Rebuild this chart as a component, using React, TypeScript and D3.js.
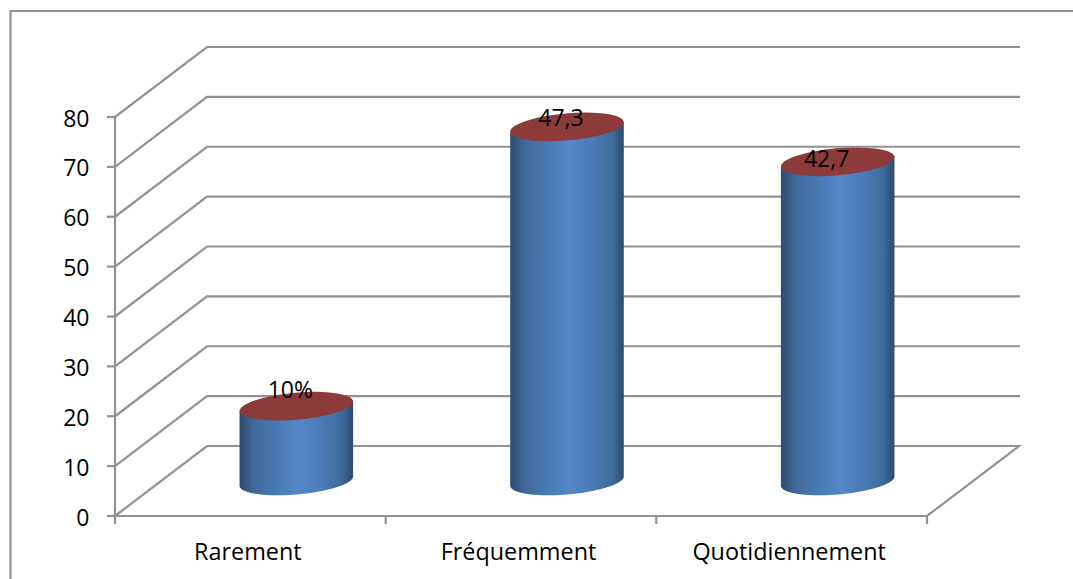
import React from "react";
import * as d3 from "d3";

// Survey responses per frequency class, with the share printed above each column.
const categories = ["Rarement", "Fréquemment", "Quotidiennement"];
const counts = [15, 71, 64];
const shareLabels = ["10%", "47,3", "42,7"];
const axisMax = 80;
const tickStep = 10;

const W = 1073;
const H = 579;
const FRONT_LEFT = 115;
const FRONT_RIGHT = 927;
const BASE_Y = 516;
const TOP_Y = 117;
const DEPTH_X = 92;
const DEPTH_Y = -70;
const RX = 57;
const RY = 13.5;
const TILT = -5;
const GRID = "#929292";
const FONT = "'Open Sans', Lato, sans-serif";
const FONT_SIZE = 23;
const CATEGORY_SIZE = 23.4;

// Share labels sit slightly off the column axis, as a spreadsheet 3D chart places them.
const labelShift: [number, number][] = [
  [-6, -8],
  [-6, -1],
  [-11, 5],
];

const y = d3.scaleLinear().domain([0, axisMax]).range([BASE_Y, TOP_Y]);
const x = d3.scaleBand<string>().domain(categories).range([FRONT_LEFT, FRONT_RIGHT]);
const yTicks = d3.range(0, axisMax + tickStep, tickStep);
const xTicks = d3.range(0, categories.length + 1).map((i) => FRONT_LEFT + i * x.step());

function ellipsePoint(cx: number, cy: number, angle: number) {
  const t = (TILT * Math.PI) / 180;
  const ex = RX * Math.cos(angle);
  const ey = RY * Math.sin(angle);
  return [cx + ex * Math.cos(t) - ey * Math.sin(t), cy + ex * Math.sin(t) + ey * Math.cos(t)];
}

// Column side: down the left edge, along the front of the base ellipse, up the right edge.
function bodyPath(cx: number, top: number, base: number) {
  const path = d3.path();
  const [lx, ly] = ellipsePoint(cx, top, Math.PI);
  path.moveTo(lx, ly);
  d3.range(0, 41).forEach((i) => {
    const [px, py] = ellipsePoint(cx, base, Math.PI - (i / 40) * Math.PI);
    path.lineTo(px, py);
  });
  const [rx, ry] = ellipsePoint(cx, top, 0);
  path.lineTo(rx, ry);
  path.closePath();
  return path.toString();
}

export default function App() {
  return (
    <svg
      width={W}
      height={H}
      viewBox={`0 0 ${W} ${H}`}
      style={{ position: "absolute", left: 0, top: 0, background: "#fff", display: "block" }}
    >
      <defs>
        <linearGradient id="cylinder" x1="0" x2="1" y1="0" y2="0">
          <stop offset="0" stopColor="#2c4b70" />
          <stop offset="0.12" stopColor="#3e6899" />
          <stop offset="0.35" stopColor="#4a7cb7" />
          <stop offset="0.52" stopColor="#5587ca" />
          <stop offset="0.72" stopColor="#4a7cb8" />
          <stop offset="0.9" stopColor="#3f6a9b" />
          <stop offset="1" stopColor="#2c4b6e" />
        </linearGradient>
      </defs>

      {/* outer chart frame, open past the right and bottom of the page */}
      <path d={`M${W},11 H10.5 V${H}`} fill="none" stroke={GRID} strokeWidth={2.2} />

      {/* wall gridlines */}
      <g fill="none" stroke={GRID} strokeWidth={2.2}>
        {yTicks.slice(1).map((t) => (
          <path
            key={t}
            d={`M${FRONT_LEFT},${y(t)} L${FRONT_LEFT + DEPTH_X},${y(t) + DEPTH_Y} H${FRONT_RIGHT + DEPTH_X + 1}`}
          />
        ))}
        {/* floor */}
        <path
          d={`M${FRONT_LEFT},${BASE_Y} L${FRONT_LEFT + DEPTH_X},${BASE_Y + DEPTH_Y} H${FRONT_RIGHT + DEPTH_X} L${FRONT_RIGHT},${BASE_Y} Z`}
        />
        {/* axes and tick marks */}
        <path d={`M${FRONT_LEFT},${y(axisMax)} V${BASE_Y}`} />
        {yTicks.map((t) => (
          <path key={t} d={`M${FRONT_LEFT - 8},${y(t)} H${FRONT_LEFT}`} />
        ))}
        {xTicks.map((t) => (
          <path key={t} d={`M${t},${BASE_Y} V${BASE_Y + 8}`} />
        ))}
      </g>

      {/* cylinders */}
      {categories.map((c, i) => {
        const cx = (x(c) as number) + x.bandwidth() / 2 + DEPTH_X / 2;
        const base = y(0) + DEPTH_Y / 2;
        const top = y(counts[i]) + DEPTH_Y / 2;
        return (
          <g key={c}>
            <path d={bodyPath(cx, top, base)} fill="url(#cylinder)" />
            <ellipse
              cx={cx}
              cy={top}
              rx={RX}
              ry={RY}
              fill="#8c3b3a"
              transform={`rotate(${TILT} ${cx} ${top})`}
            />
            <text
              x={cx + labelShift[i][0]}
              y={top + labelShift[i][1]}
              textAnchor="middle"
              fontFamily={FONT}
              fontSize={FONT_SIZE}
              fill="#000"
            >
              {shareLabels[i]}
            </text>
          </g>
        );
      })}

      {/* axis labels */}
      <g fontFamily={FONT} fontSize={FONT_SIZE} fill="#000">
        {yTicks.map((t) => (
          <text key={t} x={89.5} y={y(t) + 1.5} dy="0.35em" textAnchor="end">
            {t}
          </text>
        ))}
        {categories.map((c) => (
          <text
            key={c}
            x={(x(c) as number) + x.bandwidth() / 2 - 2.5}
            y={560}
            textAnchor="middle"
            fontSize={CATEGORY_SIZE}
          >
            {c}
          </text>
        ))}
      </g>
    </svg>
  );
}
